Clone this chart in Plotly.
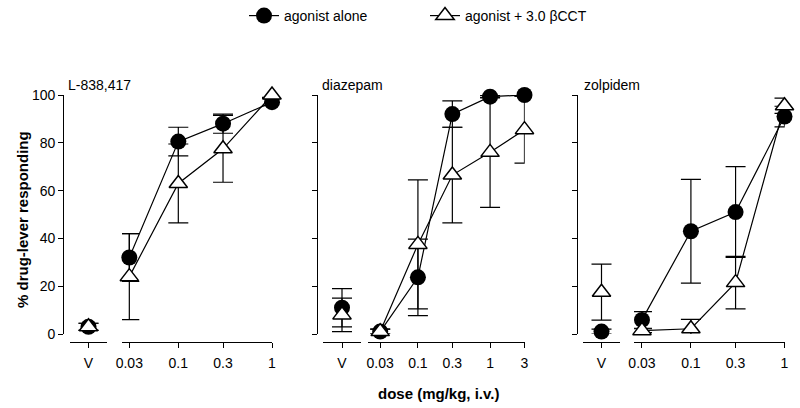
import plotly.graph_objects as go

W, H = 800, 408
FONT = "Liberation Sans, Arial, Helvetica, sans-serif"

# ---------------- data ----------------
panel_titles = ["L-838,417", "diazepam", "zolpidem"]
series_names = ["agonist alone", "agonist + 3.0 \u03b2CCT"]
vehicle_label = ["V"]

doses_1 = [0.03, 0.1, 0.3, 1]
doses_2 = [0.03, 0.1, 0.3, 1, 3]
doses_3 = [0.03, 0.1, 0.3, 1]
dose_ticks_1 = ["0.03", "0.1", "0.3", "1"]
dose_ticks_2 = ["0.03", "0.1", "0.3", "1", "3"]
dose_ticks_3 = ["0.03", "0.1", "0.3", "1"]

# vehicle values (panel 1, 2, 3)
alone_v = [3, 11, 1]
alone_v_err = [1.5, 8, 1]
beta_v = [3, 8, 17.5]
beta_v_err = [1.5, 7, 11.7]

alone_1 = [32, 80.5, 88, 97]
alone_1_err = [10, 6, 4, 1.5]
beta_1 = [24, 63, 77.5, 100]
beta_1_err = [18, 16.5, 14, 1]

alone_2 = [1, 23.7, 92, 99.3, 100]
alone_2_err = [1, 16, 5.5, 0.5, 0.5]
beta_2 = [1, 37.5, 66.5, 76, 85.5]
beta_2_err = [1, 27, 20, 23, 14]

alone_3 = [5.9, 43, 51, 91]
alone_3_err = [3.5, 21.7, 19, 4.3]
beta_3 = [1.4, 2.2, 21.5, 95.5]
beta_3_err = [0.8, 3.9, 11, 3.2]

y_ticks = [0, 20, 40, 60, 80, 100]

# ---------------- layout helpers ----------------
def fx(p):
    return p / W

def fy(p):
    return 1 - p / H

X_LINE = fy(341.5)
Y_DOM = [fy(334), fy(95)]

panels = [
    dict(doses=doses_1, ticks=dose_ticks_1, alone=alone_1, alone_err=alone_1_err,
         beta=beta_1, beta_err=beta_1_err,
         ypos=63.3, vdom=(70, 107), mdom=(122, 272.2), mrange=(-1.601, 0.002),
         title_x=66),
    dict(doses=doses_2, ticks=dose_ticks_2, alone=alone_2, alone_err=alone_2_err,
         beta=beta_2, beta_err=beta_2_err,
         ypos=316.7, vdom=(323, 361), mdom=(368, 524.7), mrange=(-1.692, 0.480),
         title_x=320),
    dict(doses=doses_3, ticks=dose_ticks_3, alone=alone_3, alone_err=alone_3_err,
         beta=beta_3, beta_err=beta_3_err,
         ypos=576.7, vdom=(583, 620), mdom=(634, 784.7), mrange=(-1.608, 0.002),
         title_x=582),
]

circle = dict(symbol="circle", size=16, color="black")
tri = dict(symbol="triangle-up", size=16, color="white", line=dict(color="black", width=1.5))

def err(arr):
    return dict(type="data", array=arr, color="black", thickness=1.2, width=10)

fig = go.Figure()
layout = dict()

for i, p in enumerate(panels):
    xv = f"x{2*i+1}" if i > 0 else "x"
    xm = f"x{2*i+2}"
    yk = f"y{i+1}" if i > 0 else "y"
    fig.add_trace(go.Scatter(x=vehicle_label, y=[alone_v[i]], mode="markers", marker=circle,
                             error_y=err([alone_v_err[i]]), xaxis=xv, yaxis=yk,
                             showlegend=False, cliponaxis=False, hoverinfo="skip"))
    fig.add_trace(go.Scatter(x=p["doses"], y=p["alone"], mode="lines+markers", marker=circle,
                             line=dict(color="black", width=1.2),
                             error_y=err(p["alone_err"]), xaxis=xm, yaxis=yk,
                             name=series_names[0], legendgroup="a", showlegend=(i == 0),
                             cliponaxis=False))
    fig.add_trace(go.Scatter(x=vehicle_label, y=[beta_v[i]], mode="markers", marker=tri,
                             error_y=err([beta_v_err[i]]), xaxis=xv, yaxis=yk,
                             showlegend=False, cliponaxis=False, hoverinfo="skip"))
    fig.add_trace(go.Scatter(x=p["doses"], y=p["beta"], mode="lines+markers", marker=tri,
                             line=dict(color="black", width=1.2),
                             error_y=err(p["beta_err"]), xaxis=xm, yaxis=yk,
                             name=series_names[1], legendgroup="b", showlegend=(i == 0),
                             cliponaxis=False))

    axcommon = dict(showline=True, linecolor="black", linewidth=1.2, ticks="outside",
                    ticklen=5, tickwidth=1.2, tickcolor="black", showgrid=False,
                    zeroline=False, anchor="free", position=X_LINE, ticklabelstandoff=4,
                    tickfont=dict(family=FONT, size=14, color="black"))
    vname = "xaxis" if i == 0 else f"xaxis{2*i+1}"
    mname = f"xaxis{2*i+2}"
    layout[vname] = dict(axcommon, type="category", range=[-0.5, 0.5],
                         domain=[fx(p["vdom"][0]), fx(p["vdom"][1])])
    layout[mname] = dict(axcommon, type="log", range=list(p["mrange"]),
                         domain=[fx(p["mdom"][0]), fx(p["mdom"][1])],
                         tickvals=p["doses"], ticktext=p["ticks"])
    yname = "yaxis" if i == 0 else f"yaxis{i+1}"
    layout[yname] = dict(domain=Y_DOM, range=[0, 100], anchor="free", position=fx(p["ypos"]),
                         showline=True, linecolor="black", linewidth=1.2, ticks="outside",
                         ticklen=5, tickwidth=1.2, tickcolor="black", showgrid=False,
                         zeroline=False, tickvals=y_ticks, showticklabels=(i == 0),
                         tickfont=dict(family=FONT, size=14, color="black"))

annotations = []
for i, p in enumerate(panels):
    annotations.append(dict(text=panel_titles[i], x=fx(p["title_x"]), y=fy(85), xref="paper",
                            yref="paper", xanchor="left", yanchor="middle", showarrow=False,
                            font=dict(family=FONT, size=14, color="black")))
annotations.append(dict(text="<b>% drug-lever responding</b>", x=fx(22), y=fy(220),
                        xref="paper", yref="paper", textangle=-90, showarrow=False,
                        xanchor="center", yanchor="middle",
                        font=dict(family=FONT, size=15, color="black")))
annotations.append(dict(text="<b>dose (mg/kg, i.v.)</b>", x=fx(438), y=fy(393),
                        xref="paper", yref="paper", showarrow=False,
                        xanchor="center", yanchor="middle",
                        font=dict(family=FONT, size=15, color="black")))

fig.update_layout(
    width=W, height=H,
    margin=dict(l=0, r=0, t=0, b=0, autoexpand=False),
    paper_bgcolor="white", plot_bgcolor="white",
    font=dict(family=FONT, size=14, color="black"),
    legend=dict(orientation="h", x=fx(244), y=fy(16), xanchor="left", yanchor="middle",
                font=dict(family=FONT, size=14, color="black"),
                entrywidth=136, entrywidthmode="pixels", bgcolor="rgba(0,0,0,0)"),
    annotations=annotations,
    **layout,
)

fig.write_html("out.html", config={"displayModeBar": False},
               post_script="document.body.style.margin='0';document.body.style.overflow='hidden';")
